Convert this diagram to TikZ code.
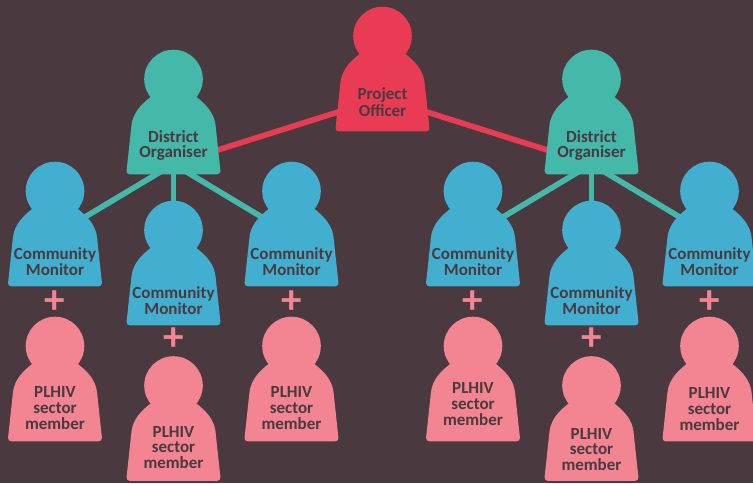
\documentclass[tikz,border=0pt]{standalone}
\usepackage{fontspec}
\setmainfont{Carlito}
\usetikzlibrary{backgrounds}
\definecolor{bgc}{HTML}{4A3A3F}
\definecolor{redc}{HTML}{EA3B54}
\definecolor{tealc}{HTML}{44B8A9}
\definecolor{bluec}{HTML}{42AFD1}
\definecolor{pinkc}{HTML}{F28591}
\tikzset{x=1pt,y=-1pt,
  head/.style={circle,inner sep=0pt,minimum size=58.6pt},
  lab/.style={text=bgc,font=\fontsize{17}{15.6}\selectfont\bfseries,align=center,inner sep=0pt},
  plusmark/.style={text=pinkc,font=\fontsize{41}{41}\selectfont\bfseries,inner sep=0pt},
  link/.style={line width=5.6pt},
}
% name, x, y of head centre, colour, label offset below head, label
\newcommand{\person}[6]{%
  \node[head,fill=#4] (#1) at (#2,#3) {};
  \fill[#4,shift={(#2,#3)}]
    (-42,46) [rounded corners=3.5pt] -- (-47.3,95.3) -- (47.3,95.3) [sharp corners] -- (42,46)
    .. controls (40.5,34) and (33,26) .. (23,18)
    -- (-23,18) .. controls (-33,26) and (-40.5,34) .. (-42,46) -- cycle;
  \node[lab] (#1-t) at (#2,#3+#5) {#6};
}
\begin{document}
\begin{tikzpicture}
\useasboundingbox (0,0) rectangle (753,483);
\person{po}{382.5}{36}{redc}{66}{Project\\[2pt]Officer}
\person{dl}{173.5}{79}{tealc}{66.5}{District\\Organiser}
\person{dr}{591.5}{79}{tealc}{66.5}{District\\Organiser}
\person{ma}{55}{191}{bluec}{70.5}{Community\\Monitor}
\person{mb}{173.5}{230}{bluec}{70.5}{Community\\Monitor}
\person{mc}{291.5}{191}{bluec}{70.5}{Community\\Monitor}
\person{md}{473}{191}{bluec}{70.5}{Community\\Monitor}
\person{me}{591.5}{230}{bluec}{70.5}{Community\\Monitor}
\person{mf}{709.5}{191}{bluec}{70.5}{Community\\Monitor}
\person{pa}{55}{346}{pinkc}{62}{PLHIV\\sector\\member}
\person{pb}{173.5}{385.5}{pinkc}{62}{PLHIV\\sector\\member}
\person{pc}{291.5}{346}{pinkc}{62}{PLHIV\\sector\\member}
\person{pd}{473}{346}{pinkc}{58}{PLHIV\\sector\\member}
\person{pe}{591.5}{385.5}{pinkc}{64}{PLHIV\\sector\\member}
\person{pf}{709.5}{346}{pinkc}{63}{PLHIV\\sector\\member}
\node[plusmark] (xa) at (55,302) {+};
\node[plusmark] (xb) at (173.5,339) {+};
\node[plusmark] (xc) at (291.5,302) {+};
\node[plusmark] (xd) at (473,302) {+};
\node[plusmark] (xe) at (591.5,339) {+};
\node[plusmark] (xf) at (709.5,302) {+};
\begin{scope}[on background layer]
\fill[bgc] (0,0) rectangle (753,483);
\draw[link,redc] ([yshift=-62pt]po.center) -- ([yshift=-85pt]dl.center);
\draw[link,redc] ([yshift=-62pt]po.center) -- ([yshift=-85pt]dr.center);
\draw[link,tealc] ([yshift=-85pt]dl.center) -- ([yshift=-44pt]ma.center);
\draw[link,tealc] ([yshift=-85pt]dl.center) -- (mb.center);
\draw[link,tealc] ([yshift=-85pt]dl.center) -- ([yshift=-44pt]mc.center);
\draw[link,tealc] ([yshift=-85pt]dr.center) -- ([yshift=-44pt]md.center);
\draw[link,tealc] ([yshift=-85pt]dr.center) -- (me.center);
\draw[link,tealc] ([yshift=-85pt]dr.center) -- ([yshift=-44pt]mf.center);
\end{scope}
\end{tikzpicture}
\end{document}
